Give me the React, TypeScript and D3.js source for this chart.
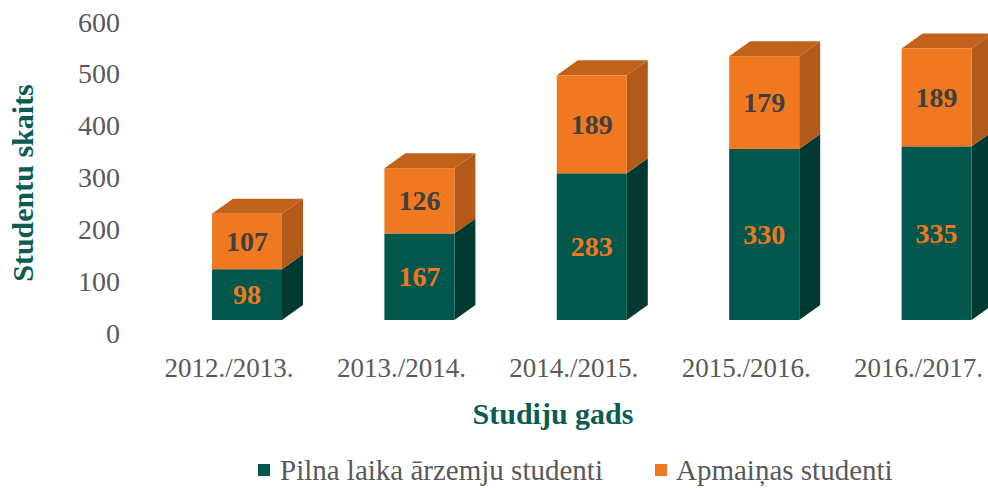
import React from "react";
import * as d3 from "d3";

const categories = ["2012./2013.", "2013./2014.", "2014./2015.", "2015./2016.", "2016./2017."];
const fullTime = [98, 167, 283, 330, 335];
const exchange = [107, 126, 189, 179, 189];
const ticks = [0, 100, 200, 300, 400, 500, 600];
const seriesNames = ["Pilna laika ārzemju studenti", "Apmaiņas studenti"];

const W = 988, H = 488;
const FONT = "'Liberation Serif', 'Times New Roman', serif";
const GREEN = "#02574c";
const GREEN_SIDE = "#003a33";
const ORANGE = "#f07821";
const ORANGE_SIDE = "#b3591a";
const ORANGE_TOP = "#c2611b";
const TEAL_TEXT = "#0b5c52";
const GREY = "#595959";

export default function App() {
  const x = d3.scalePoint<string>().domain(categories).range([247, 936.6]);
  const yFront = d3.scaleLinear().domain([0, 600]).range([320, 9]);
  const yTick = d3.scaleLinear().domain([0, 600]).range([333, 22]);
  const bw = 70, dx = 21, dy = -15;

  const seg = (cx: number, v0: number, v1: number, front: string, side: string, top: string | null, key: string) => {
    const x0 = cx - bw / 2, x1 = cx + bw / 2;
    const yb = yFront(v0), yt = yFront(v1);
    return (
      <g key={key}>
        <polygon points={`${x1},${yb} ${x1 + dx},${yb + dy} ${x1 + dx},${yt + dy} ${x1},${yt}`} fill={side} />
        {top && <polygon points={`${x0},${yt} ${x1},${yt} ${x1 + dx},${yt + dy} ${x0 + dx},${yt + dy}`} fill={top} />}
        <rect x={x0} y={yt} width={bw} height={yb - yt} fill={front} />
      </g>
    );
  };

  return (
    <svg width={W} height={H} style={{ position: "absolute", left: 0, top: 0, background: "#fff" }} fontFamily={FONT}>
      {ticks.map((t) => (
        <text key={t} x={120} y={yTick(t)} textAnchor="end" dominantBaseline="central" fontSize={28} fill={GREY}>{t}</text>
      ))}
      {categories.map((c, i) => {
        const cx = x(c)!;
        const a = fullTime[i], b = exchange[i];
        return (
          <g key={c}>
            {seg(cx, 0, a, GREEN, GREEN_SIDE, null, "g")}
            {seg(cx, a, a + b, ORANGE, ORANGE_SIDE, ORANGE_TOP, "o")}
            <text x={cx} y={(yFront(0) + yFront(a)) / 2} textAnchor="middle" dominantBaseline="central" fontSize={28} fontWeight="bold" fill={ORANGE}>{a}</text>
            <text x={cx} y={(yFront(a) + yFront(a + b)) / 2} textAnchor="middle" dominantBaseline="central" fontSize={28} fontWeight="bold" fill="#404040">{b}</text>
            <text x={cx - 18} y={368} textAnchor="middle" dominantBaseline="central" fontSize={27} fill={GREY}>{c}</text>
          </g>
        );
      })}
      <text transform="translate(22,183) rotate(-90)" textAnchor="middle" dominantBaseline="central" fontSize={30} fontWeight="bold" fill={TEAL_TEXT}>Studentu skaits</text>
      <text x={553} y={413} textAnchor="middle" dominantBaseline="central" fontSize={30} fontWeight="bold" fill={TEAL_TEXT}>Studiju gads</text>
      <g>
        <rect x={258} y={464} width={12} height={12} fill={GREEN} />
        <text x={280} y={470} dominantBaseline="central" fontSize={29} fill={GREY}>{seriesNames[0]}</text>
        <rect x={655} y={464} width={12} height={12} fill={ORANGE} />
        <text x={676} y={470} dominantBaseline="central" fontSize={29} fill={GREY}>{seriesNames[1]}</text>
      </g>
    </svg>
  );
}
